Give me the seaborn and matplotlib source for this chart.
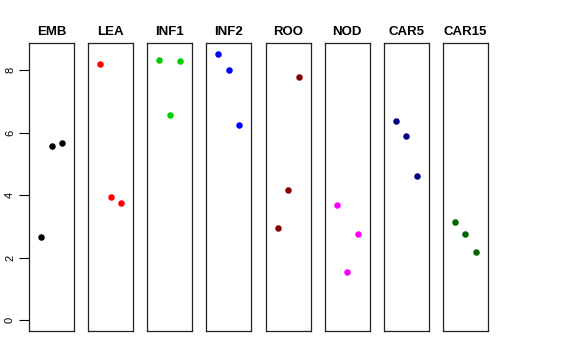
import numpy as np
import pandas as pd
import matplotlib
matplotlib.use("Agg")
import matplotlib.pyplot as plt
import seaborn as sns

# panels (tissues), three values each
tissues = ["EMB", "LEA", "INF1", "INF2", "ROO", "NOD", "CAR5", "CAR15"]
emb = [2.66, 5.56, 5.67]
lea = [8.18, 3.93, 3.74]
inf1 = [8.33, 6.56, 8.30]
inf2 = [8.52, 8.01, 6.24]
roo = [2.95, 4.18, 7.78]
nod = [3.69, 1.56, 2.75]
car5 = [6.37, 5.88, 4.62]
car15 = [3.15, 2.77, 2.18]
colors = ["black", "red", "#00CD00", "blue", "#8B0000", "magenta", "#000080", "#006400"]
y_ticks = [0, 2, 4, 6, 8]

values = [emb, lea, inf1, inf2, roo, nod, car5, car15]
rows = []
for t, v in zip(tissues, values):
    for i, val in enumerate(v):
        rows.append({"tissue": t, "rep": i + 1, "value": val})
df = pd.DataFrame(rows)

sns.set_style("white")
plt.rcParams["font.family"] = ["Liberation Sans", "DejaVu Sans"]
plt.rcParams["text.color"] = "black"
plt.rcParams["ytick.color"] = "black"

fig, axes = plt.subplots(1, len(tissues), figsize=(5.76, 3.6), dpi=100, sharey=True)
fig.subplots_adjust(left=29 / 576, right=488 / 576, top=1 - 43 / 360,
                    bottom=1 - 331 / 360, wspace=14 / 45)

ymax = df["value"].max()
pad = 0.04 * ymax
for ax, t, c in zip(axes, tissues, colors):
    sub = df[df["tissue"] == t]
    sns.scatterplot(data=sub, x="rep", y="value", color=c, s=22,
                    linewidth=0, ax=ax, legend=False)
    ax.set_xlim(-0.16, 4.16)
    ax.set_ylim(-pad, ymax + pad)
    ax.set_xticks([])
    ax.set_xlabel("")
    ax.set_ylabel("")
    ax.set_title(t, fontsize=9.5, fontweight="bold", pad=6, color="black")
    for s in ax.spines.values():
        s.set_visible(True)
        s.set_color("#222222")
        s.set_linewidth(0.9)

axes[0].set_yticks(y_ticks)
axes[0].set_yticklabels([str(v) for v in y_ticks], rotation=90, va="center",
                        fontsize=8, color="black")
axes[0].tick_params(axis="y", left=True, length=7, width=0.8, pad=3,
                    color="black")
for ax in axes[1:]:
    ax.tick_params(axis="y", left=False, labelleft=False)

fig.savefig("out.png", dpi=100)
